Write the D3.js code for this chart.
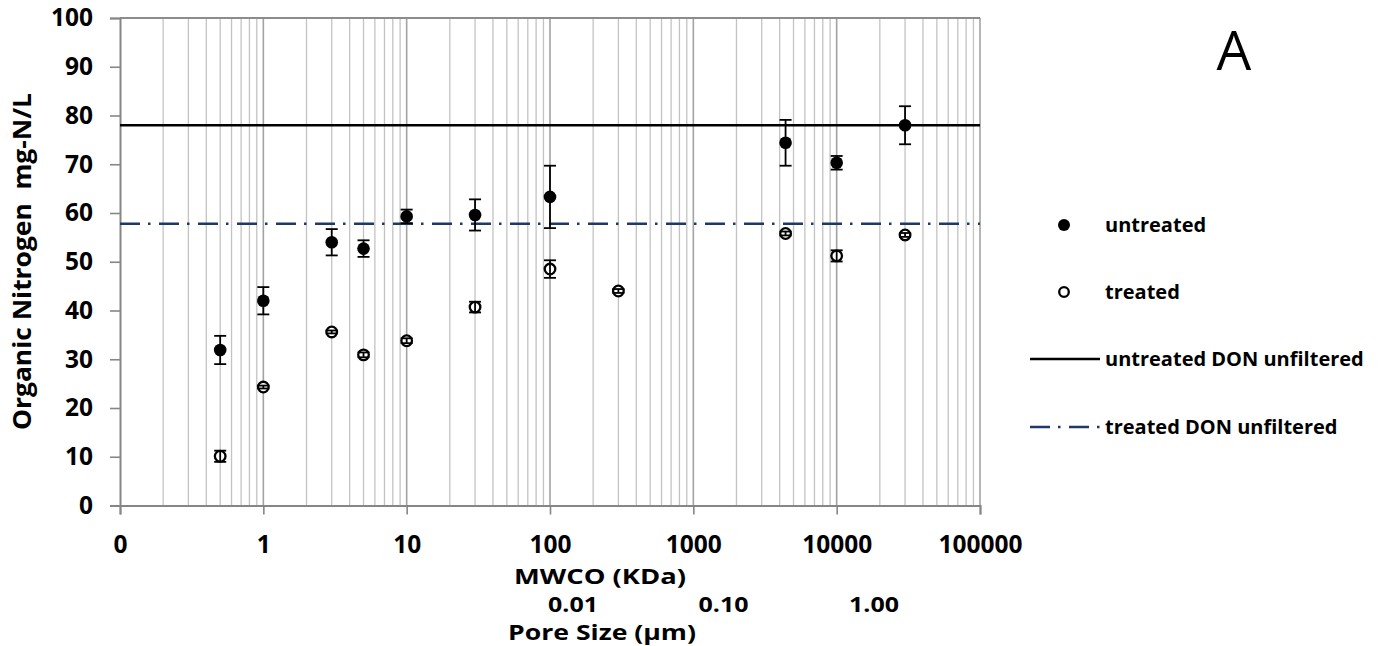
<!DOCTYPE html>
<html><head><meta charset="utf-8">
<script src="https://cdn.jsdelivr.net/npm/d3@7"></script>
<style>body{margin:0;background:#fff} svg text{font-family:"Open Sans", Lato, sans-serif;}</style>
</head><body><svg id="c" width="1379" height="646"></svg>
<script>
// ---- data ----
const untreatedX = [0.5, 1, 3, 5, 10, 30, 100, 4400, 10000, 30000];
const untreatedY = [31.9, 42.0, 54.0, 52.7, 59.3, 59.6, 63.3, 74.4, 70.3, 78.0];
const untreatedErr = [2.9, 2.8, 2.7, 1.7, 1.4, 3.2, 6.4, 4.7, 1.4, 3.9];
const treatedX = [0.5, 1, 3, 5, 10, 30, 100, 300, 4400, 10000, 30000];
const treatedY = [10.1, 24.3, 35.6, 30.9, 33.8, 40.7, 48.5, 44.0, 55.8, 51.2, 55.5];
const treatedErr = [1.15, 0.3, 0.3, 0.5, 0.5, 1.1, 1.8, 0.4, 0.4, 1.15, 0.4];
const untreatedDON = 78.0;
const treatedDON = 57.8;
const xTicks = [0.1, 1, 10, 100, 1000, 10000, 100000];
const xTickLabels = ["0", "1", "10", "100", "1000", "10000", "100000"];
const yTicks = [0, 10, 20, 30, 40, 50, 60, 70, 80, 90, 100];
const poreTicks = [0.01, 0.1, 1];
const poreLabels = ["0.01", "0.10", "1.00"];
const legendLabels = ["untreated", "treated", "untreated DON unfiltered", "treated DON unfiltered"];

// ---- layout ----
const L = 120, R = 980, T = 18, B = 505.5;
const FONT = '"Open Sans", Lato, sans-serif';
const svg = d3.select("#c");
const x = d3.scaleLog().domain([0.1, 100000]).range([L, R]);
const y = d3.scaleLinear().domain([0, 100]).range([B, T]);
const xp = d3.scaleLog().domain([0.01, 1]).range([573, 874]);
const navy = "#1f3864";

// gridlines
const minor = [];
for (let e = -1; e < 5; e++) for (let m = 2; m <= 9; m++) minor.push(m * Math.pow(10, e));
svg.append("g").selectAll("line").data(minor).join("line")
  .attr("x1", d => x(d)).attr("x2", d => x(d)).attr("y1", T).attr("y2", B)
  .attr("stroke", "#c3c3c3").attr("stroke-width", 1.3);
svg.append("g").selectAll("line").data(xTicks.slice(1)).join("line")
  .attr("x1", d => x(d)).attr("x2", d => x(d)).attr("y1", T).attr("y2", B)
  .attr("stroke", "#a3a3a3").attr("stroke-width", 1.6);
svg.append("line").attr("x1", L).attr("x2", R).attr("y1", T).attr("y2", T)
  .attr("stroke", "#8c8c8c").attr("stroke-width", 1.8);

// axes
const xAxis = d3.axisBottom(x).tickValues(xTicks).tickFormat((d, i) => xTickLabels[i]).tickSize(9).tickPadding(21);
const gx = svg.append("g").attr("transform", `translate(0,${B})`).call(xAxis);
gx.select(".domain").attr("stroke", "#868686").attr("stroke-width", 2);
gx.selectAll(".tick line").attr("stroke", "#868686").attr("stroke-width", 1.6);
gx.selectAll(".tick text").attr("font-size", 24.5).attr("font-weight", "bold").attr("fill", "#000")
  .attr("font-family", FONT);

const yAxis = d3.axisLeft(y).tickValues(yTicks).tickSize(10).tickPadding(17);
const gy = svg.append("g").attr("transform", `translate(${L},0)`).call(yAxis);
gy.select(".domain").attr("stroke", "#868686").attr("stroke-width", 2);
gy.selectAll(".tick line").attr("stroke", "#868686").attr("stroke-width", 1.6);
gy.selectAll(".tick text").attr("font-size", 24.5).attr("font-weight", "bold").attr("fill", "#000")
  .attr("font-family", FONT);

// reference lines
svg.append("line").attr("x1", L).attr("x2", R).attr("y1", y(untreatedDON)).attr("y2", y(untreatedDON))
  .attr("stroke", "#000").attr("stroke-width", 2.4);
svg.append("line").attr("x1", L).attr("x2", R).attr("y1", y(treatedDON)).attr("y2", y(treatedDON))
  .attr("stroke", navy).attr("stroke-width", 2.6).attr("stroke-dasharray", "20,8,2.5,8.5");

// points + error bars
function drawSeries(xs, ys, es, filled) {
  const g = svg.append("g");
  const data = xs.map((v, i) => ({x: v, y: ys[i], e: es[i]}));
  g.selectAll("circle").data(data).join("circle")
    .attr("cx", d => x(d.x)).attr("cy", d => y(d.y)).attr("r", filled ? 6.3 : 5.3)
    .attr("fill", filled ? "#000" : "#fff").attr("stroke", "#000").attr("stroke-width", filled ? 0 : 2.3);
  const eb = g.append("g").attr("stroke", "#000").attr("stroke-width", 1.8);
  eb.selectAll(".v").data(data).join("line")
    .attr("x1", d => x(d.x)).attr("x2", d => x(d.x))
    .attr("y1", d => y(d.y + d.e)).attr("y2", d => y(d.y - d.e));
  eb.selectAll(".t").data(data).join("line")
    .attr("x1", d => x(d.x) - 6).attr("x2", d => x(d.x) + 6)
    .attr("y1", d => y(d.y + d.e)).attr("y2", d => y(d.y + d.e));
  eb.selectAll(".b").data(data).join("line")
    .attr("x1", d => x(d.x) - 6).attr("x2", d => x(d.x) + 6)
    .attr("y1", d => y(d.y - d.e)).attr("y2", d => y(d.y - d.e));
}
drawSeries(treatedX, treatedY, treatedErr, false);
drawSeries(untreatedX, untreatedY, untreatedErr, true);

// axis titles
const bold = sel => sel.attr("font-weight", "bold").attr("fill", "#000");
svg.append("text").attr("x", 600).attr("y", 583.5).attr("text-anchor", "middle")
  .attr("font-size", 20.5).attr("textLength", 172).attr("lengthAdjust", "spacingAndGlyphs").text("MWCO (KDa)").call(bold);
svg.append("g").selectAll("text").data(poreTicks).join("text")
  .attr("x", d => xp(d)).attr("y", 611.5).attr("text-anchor", "middle")
  .attr("font-size", 20.5).attr("textLength", 50).attr("lengthAdjust", "spacingAndGlyphs")
  .text((d, i) => poreLabels[i]).call(bold);
svg.append("text").attr("x", 602).attr("y", 639.5).attr("text-anchor", "middle")
  .attr("font-size", 20.5).attr("textLength", 188).attr("lengthAdjust", "spacingAndGlyphs").text("Pore Size (µm)").call(bold);
svg.append("text").attr("transform", "translate(31,261.5) rotate(-90)").attr("text-anchor", "middle")
  .attr("font-size", 25).attr("textLength", 337).attr("lengthAdjust", "spacingAndGlyphs")
  .text("Organic Nitrogen\u00a0\u00a0mg-N/L").call(bold);

// panel letter
svg.append("text").attr("x", 1234).attr("y", 70).attr("text-anchor", "middle")
  .attr("font-size", 55).attr("fill", "#000").text("A");

// legend
const lgY = [225, 292, 359, 427];
const lg = svg.append("g");
lg.append("circle").attr("cx", 1064).attr("cy", lgY[0]).attr("r", 6).attr("fill", "#000");
lg.append("circle").attr("cx", 1064).attr("cy", lgY[1]).attr("r", 4.8).attr("fill", "#fff").attr("stroke", "#000").attr("stroke-width", 2.3);
lg.append("line").attr("x1", 1030).attr("x2", 1100).attr("y1", lgY[2]).attr("y2", lgY[2]).attr("stroke", "#000").attr("stroke-width", 2.4);
lg.append("line").attr("x1", 1030).attr("x2", 1100).attr("y1", lgY[3]).attr("y2", lgY[3]).attr("stroke", navy).attr("stroke-width", 2.6).attr("stroke-dasharray", "20,8,2.5,8.5");
lg.selectAll("text").data(legendLabels).join("text")
  .attr("x", 1105).attr("y", (d, i) => lgY[i] + 7).attr("font-size", 20).text(d => d).call(bold);
</script></body></html>
